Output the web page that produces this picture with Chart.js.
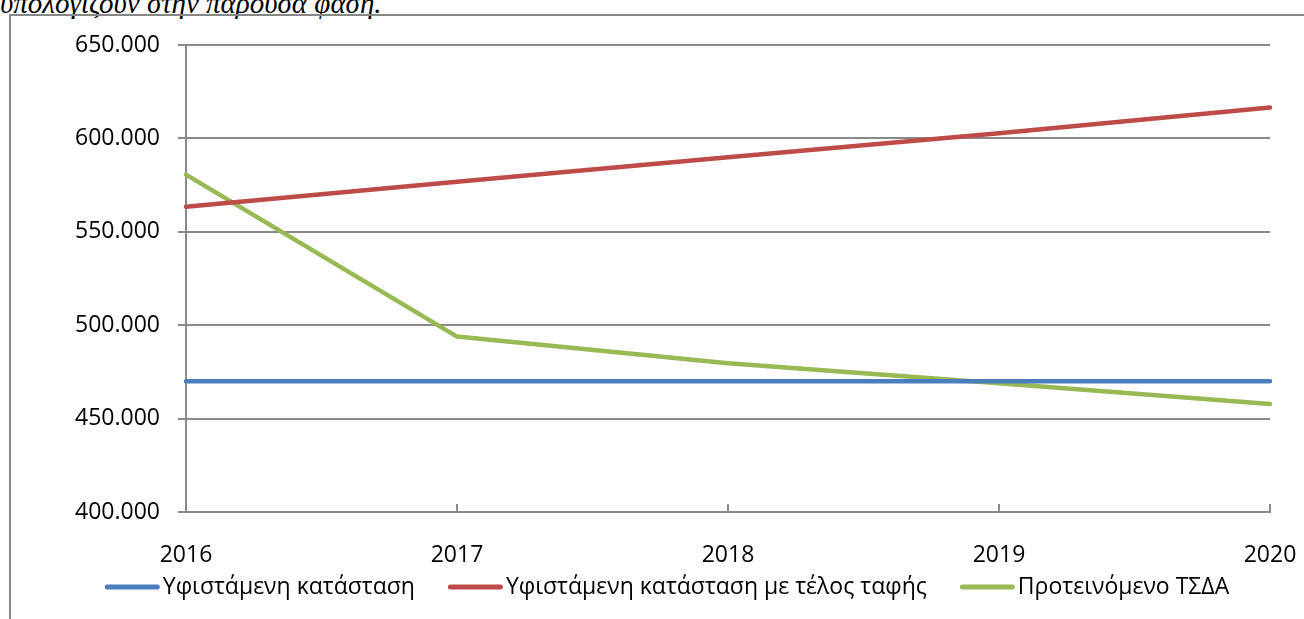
<!DOCTYPE html>
<html>
<head>
<meta charset="utf-8">
<script src="https://cdn.jsdelivr.net/npm/chart.js@4.4.1/dist/chart.umd.min.js"></script>
<style>
  html, body { margin: 0; padding: 0; width: 1304px; height: 619px; overflow: hidden; background: #fff; }
  #note { position: absolute; left: 0; top: -13px; font: italic 29px "Liberation Serif", serif; color: #000; white-space: nowrap; line-height: 32px; }
  #frame { position: absolute; left: 9px; top: 14px; width: 1400px; height: 700px; border-left: 2px solid #878787; border-top: 2px solid #878787; }
  #wrap { position: absolute; left: 0; top: 0; width: 1304px; height: 619px; }
</style>
</head>
<body>
<div id="note">υπολογίζουν στην παρούσα φάση.</div>
<div id="frame"></div>
<div id="wrap"><canvas id="c" width="1304" height="619"></canvas></div>
<script>
// Years on the category axis
const years = ['2016', '2017', '2018', '2019', '2020'];

// Series values
const existing = [470000, 470000, 470000, 470000, 470000];
const existingWithFee = [563400, 576800, 589900, 602700, 616600];
const proposed = [580600, 493900, 479600, 468900, 457800];

// Value axis range and step
const yMin = 400000;
const yMax = 650000;
const yStep = 50000;

const seriesNames = ['Υφιστάμενη κατάσταση', 'Υφιστάμενη κατάσταση με τέλος ταφής', 'Προτεινόμενο ΤΣΔΑ'];
const seriesColors = ['#4A7EBB', '#BE4B48', '#98B954'];

const GRID = '#8a8a8a';
const FONT_FAMILY = '"Open Sans", sans-serif';

// Thousands grouped with a dot, e.g. 650.000
function fmt(v) {
  return String(Math.round(v)).replace(/\B(?=(\d{3})+(?!\d))/g, '.');
}

// Legend drawn as a line sample followed closely by its label
const lineLegend = {
  id: 'lineLegend',
  afterDraw(chart, args, opts) {
    const ctx = chart.ctx;
    ctx.save();
    ctx.font = opts.font;
    const items = chart.data.datasets.map(d => ({
      label: d.label, color: d.borderColor, w: ctx.measureText(d.label).width
    }));
    const total = items.reduce((s, it) => s + opts.lineLen + opts.textGap + it.w, 0) + opts.itemGap * (items.length - 1);
    let x = opts.centerX - total / 2;
    items.forEach(it => {
      ctx.strokeStyle = it.color;
      ctx.lineWidth = opts.lineWidth;
      ctx.lineCap = 'round';
      ctx.beginPath();
      ctx.moveTo(x + opts.lineWidth / 2, opts.lineY);
      ctx.lineTo(x + opts.lineLen - opts.lineWidth / 2, opts.lineY);
      ctx.stroke();
      x += opts.lineLen + opts.textGap;
      ctx.fillStyle = '#000';
      ctx.textBaseline = 'alphabetic';
      ctx.textAlign = 'left';
      ctx.fillText(it.label, x, opts.textBaseline);
      x += it.w + opts.itemGap;
    });
    ctx.restore();
  }
};

const datasets = [existing, existingWithFee, proposed].map((vals, i) => ({
  label: seriesNames[i],
  data: vals,
  borderColor: seriesColors[i],
  backgroundColor: seriesColors[i],
  borderWidth: 4.5,
  borderCapStyle: 'round',
  borderJoinStyle: 'round',
  pointRadius: 0,
  pointHoverRadius: 0,
  tension: 0,
  fill: false
}));

new Chart(document.getElementById('c'), {
  type: 'line',
  data: { labels: years, datasets },
  plugins: [lineLegend],
  options: {
    responsive: false,
    animation: false,
    events: [],
    layout: { padding: { left: 0, top: 45, right: 34, bottom: 0 } },
    plugins: {
      legend: { display: false },
      tooltip: { enabled: false },
      lineLegend: {
        font: '23px ' + FONT_FAMILY,
        lineLen: 55,
        lineWidth: 5,
        textGap: 3,
        itemGap: 33,
        centerX: 667,
        lineY: 587,
        textBaseline: 594
      }
    },
    scales: {
      x: {
        offset: false,
        grid: { drawOnChartArea: false, drawTicks: true, tickLength: -8, color: GRID, lineWidth: 2 },
        border: { color: GRID, width: 2 },
        ticks: { padding: 38, color: '#000', font: { family: FONT_FAMILY, size: 23 }, maxRotation: 0, autoSkip: false },
        afterFit(s) { s.height = 107; s.paddingLeft = 0; s.paddingRight = 0; }
      },
      y: {
        min: yMin,
        max: yMax,
        grid: { color: GRID, lineWidth: 2, tickLength: 8 },
        border: { color: GRID, width: 2 },
        ticks: { stepSize: yStep, padding: 18, color: '#000', font: { family: FONT_FAMILY, size: 23 }, callback: v => fmt(v) },
        afterFit(s) { s.width = 186; s.paddingTop = 0; s.paddingBottom = 0; }
      }
    }
  }
});
</script>
</body>
</html>
